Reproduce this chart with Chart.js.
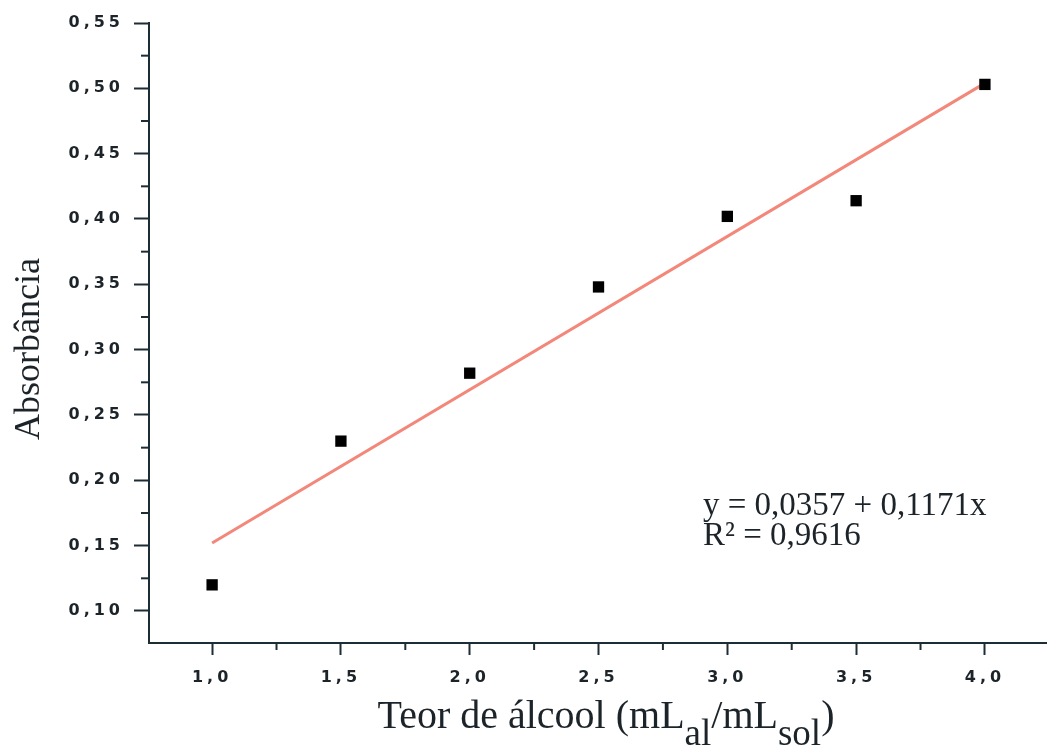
<!DOCTYPE html>
<html><head><meta charset="utf-8">
<script src="https://cdn.jsdelivr.net/npm/chart.js@4/dist/chart.umd.min.js"></script>
<style>html,body{margin:0;padding:0;background:#fff}</style>
</head><body>
<canvas id="c" width="1047" height="749"></canvas>
<script>
// ---- data ----
const xValues = [1.0, 1.5, 2.0, 2.5, 3.0, 3.5, 4.0];
const yValues = [0.120, 0.230, 0.282, 0.348, 0.402, 0.414, 0.503];
const fitX = [1.0, 4.0];
const fitY = [0.152, 0.504];
const xTicks = [1.0, 1.25, 1.5, 1.75, 2.0, 2.25, 2.5, 2.75, 3.0, 3.25, 3.5, 3.75, 4.0];
const xTickLabels = ['1,0', '', '1,5', '', '2,0', '', '2,5', '', '3,0', '', '3,5', '', '4,0'];
const yTicks = [0.10, 0.125, 0.15, 0.175, 0.20, 0.225, 0.25, 0.275, 0.30, 0.325, 0.35, 0.375, 0.40, 0.425, 0.45, 0.475, 0.50, 0.525, 0.55];
const yTickLabels = ['0,10', '', '0,15', '', '0,20', '', '0,25', '', '0,30', '', '0,35', '', '0,40', '', '0,45', '', '0,50', '', '0,55'];
const xTitleParts = ['Teor de álcool (mL', 'al', '/mL', 'sol', ')'];
const yTitle = 'Absorbância';
const fitText = ['y = 0,0357 + 0,1171x', 'R² = 0,9616'];

const AXIS = '#1d2d35';
const TEXT = '#1c2429';

const labelFor = (ticks, labels, v) => {
  const i = ticks.findIndex(t => Math.abs(t - v) < 1e-6);
  return i >= 0 ? labels[i] : '';
};

const spacingPlugin = {
  id: 'spacing',
  beforeDraw(chart) { chart.ctx.letterSpacing = '4px'; },
  beforeDatasetsDraw(chart) { chart.ctx.letterSpacing = '0px'; }
};

const minorTicks = {
  id: 'minorTicks',
  afterDraw(chart) {
    const ctx = chart.ctx, x = chart.scales.x, y = chart.scales.y;
    ctx.save();
    ctx.strokeStyle = AXIS; ctx.lineWidth = 2;
    xTicks.forEach((v, i) => {
      if (xTickLabels[i] !== '') return;
      const px = x.getPixelForValue(v);
      ctx.beginPath(); ctx.moveTo(px, x.top); ctx.lineTo(px, x.top + 7); ctx.stroke();
    });
    yTicks.forEach((v, i) => {
      if (yTickLabels[i] !== '') return;
      const py = y.getPixelForValue(v);
      ctx.beginPath(); ctx.moveTo(y.right - 8, py); ctx.lineTo(y.right, py); ctx.stroke();
    });
    ctx.restore();
  }
};

const titles = {
  id: 'titles',
  afterDraw(chart) {
    const ctx = chart.ctx;
    ctx.save();
    ctx.letterSpacing = '0px';
    ctx.fillStyle = TEXT;
    // y title
    ctx.font = '36px "Liberation Serif"';
    ctx.translate(30, 349);
    ctx.rotate(-Math.PI / 2);
    ctx.textAlign = 'center'; ctx.textBaseline = 'middle';
    ctx.fillText(yTitle, 0, 0);
    ctx.setTransform(1, 0, 0, 1, 0, 0);
    // x title with subscripts
    const big = '40px "Liberation Serif"', small = '37px "Liberation Serif"';
    const fonts = [big, small, big, small, big];
    const offs = [0, 17, 0, 17, 0];
    let total = 0;
    const widths = xTitleParts.map((p, i) => { ctx.font = fonts[i]; const w = ctx.measureText(p).width; total += w; return w; });
    let cx = 606 - total / 2;
    const base = 728;
    ctx.textAlign = 'left'; ctx.textBaseline = 'alphabetic';
    xTitleParts.forEach((p, i) => { ctx.font = fonts[i]; ctx.fillText(p, cx, base + offs[i]); cx += widths[i]; });
    // fit annotation
    ctx.font = '33px "Liberation Serif"';
    ctx.fillText(fitText[0], 703, 515);
    ctx.fillText(fitText[1], 703, 545);
    ctx.restore();
  }
};

new Chart(document.getElementById('c'), {
  data: {
    datasets: [
      {
        type: 'scatter',
        data: xValues.map((v, i) => ({ x: v, y: yValues[i] })),
        pointStyle: 'rect', pointRadius: 8, pointHoverRadius: 8,
        backgroundColor: '#000', borderWidth: 0
      },
      {
        type: 'line',
        data: fitX.map((v, i) => ({ x: v, y: fitY[i] })),
        borderColor: '#f2877a', borderWidth: 3, pointRadius: 0, fill: false
      }
    ]
  },
  options: {
    responsive: false, animation: false, devicePixelRatio: 1,
    layout: { autoPadding: false, padding: { top: 23, left: 0, right: 0, bottom: 0 } },
    plugins: { legend: { display: false }, tooltip: { enabled: false } },
    scales: {
      x: {
        type: 'linear', min: 0.755, max: 4.241,
        afterBuildTicks: s => { s.ticks = xTicks.map(v => ({ value: v })); },
        afterFit: s => { s.height = 106; s.paddingLeft = 0; s.paddingRight = 0; },
        border: { display: true, color: AXIS, width: 2 },
        grid: { drawOnChartArea: false, drawTicks: true, tickLength: 12, tickWidth: 2,
          tickColor: c => (c.tick && labelFor(xTicks, xTickLabels, c.tick.value) !== '') ? AXIS : 'rgba(0,0,0,0)' },
        ticks: { autoSkip: false, maxRotation: 0, padding: 13, color: TEXT,
          font: { family: 'DejaVu Sans', weight: 'bold', size: 16 },
          callback: v => labelFor(xTicks, xTickLabels, v) }
      },
      y: {
        type: 'linear', min: 0.0755, max: 0.55,
        afterBuildTicks: s => { s.ticks = yTicks.map(v => ({ value: v })); },
        afterFit: s => { s.width = 149; s.paddingTop = 0; s.paddingBottom = 0; },
        border: { display: true, color: AXIS, width: 2 },
        grid: { drawOnChartArea: false, drawTicks: true, tickLength: 15, tickWidth: 2,
          tickColor: c => (c.tick && labelFor(yTicks, yTickLabels, c.tick.value) !== '') ? AXIS : 'rgba(0,0,0,0)' },
        ticks: { autoSkip: false, padding: 10, color: TEXT,
          font: { family: 'DejaVu Sans', weight: 'bold', size: 16 },
          callback: v => labelFor(yTicks, yTickLabels, v) }
      }
    }
  },
  plugins: [spacingPlugin, minorTicks, titles]
});
</script>
</body></html>
